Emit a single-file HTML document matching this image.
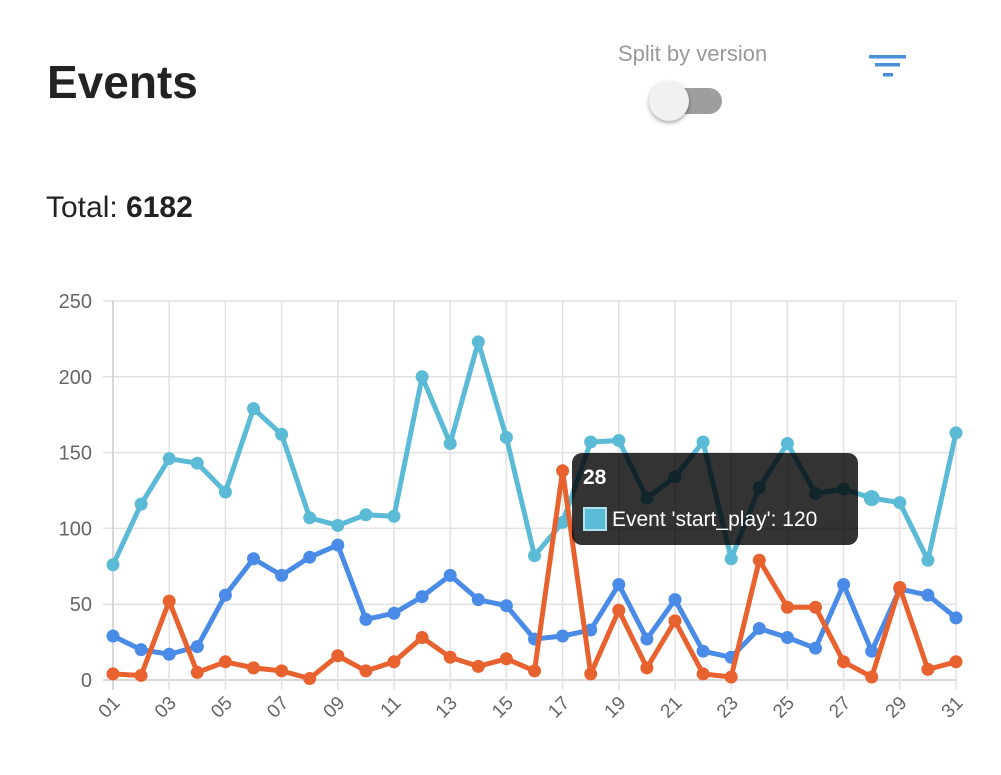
<!DOCTYPE html>
<html><head><meta charset="utf-8"><style>
body{margin:0;width:1001px;height:775px;background:#fff;font-family:"Liberation Sans",sans-serif;overflow:hidden;position:relative}
.abs{position:absolute}
</style></head><body>
<div class="abs" style="left:47px;top:55px;font-size:46px;font-weight:bold;color:#222">Events</div>
<div class="abs" style="left:618px;top:41px;font-size:22px;color:#999">Split by version</div>
<div class="abs" style="left:650px;top:88px;width:72px;height:26px;border-radius:13px;background:#9e9e9e"></div>
<div class="abs" style="left:649px;top:81px;width:40px;height:40px;border-radius:50%;background:#f1f1f1;box-shadow:0 2px 4px rgba(0,0,0,0.35)"></div>
<svg class="abs" style="left:866px;top:52px" width="44" height="30"><rect x="3" y="3" width="37" height="3.5" fill="#4a90d9"/><rect x="9" y="11" width="25" height="3.5" fill="#4a90d9"/><rect x="17" y="21" width="10" height="3.5" fill="#4a90d9"/></svg>
<div class="abs" style="left:46px;top:191px;font-size:30px;color:#222">Total: <b>6182</b></div>
<svg id="chart" class="abs" style="left:0;top:0" width="1001" height="775"></svg>
<script>
const days=['01','02','03','04','05','06','07','08','09','10','11','12','13','14','15','16','17','18','19','20','21','22','23','24','25','26','27','28','29','30','31'];
const startPlay=[76,116,146,143,124,179,162,107,102,109,108,200,156,223,160,82,104,157,158,120,134,157,80,127,156,123,126,120,117,79,163];
const blueSeries=[29,20,17,22,56,80,69,81,89,40,44,55,69,53,49,27,29,33,63,27,53,19,15,34,28,21,63,19,60,56,41];
const orangeSeries=[4,3,52,5,12,8,6,1,16,6,12,28,15,9,14,6,138,4,46,8,39,4,2,79,48,48,12,2,61,7,12];
const yTicks=[0,50,100,150,200,250];
const svg=document.getElementById('chart');const NS='http://www.w3.org/2000/svg';
const X0=113,X1=956,Y0=680,Y1=301,YMAX=250;
const xs=i=>X0+(X1-X0)*i/(days.length-1);
const ys=v=>Y0-(Y0-Y1)*v/YMAX;
function mk(t,a,p){const e=document.createElementNS(NS,t);for(const k in a)e.setAttribute(k,a[k]);(p||svg).appendChild(e);return e;}
yTicks.forEach(v=>{const l=mk('line',{x1:X0-10,x2:X1,y1:ys(v),y2:ys(v),stroke:v===0?'#ccc':'#e2e2e2','stroke-width':1.5});


const t=mk('text',{x:92,y:ys(v)+7,'text-anchor':'end','font-size':20,fill:'#666','font-family':'Liberation Sans, sans-serif'});t.textContent=v;

});
days.forEach((d,i)=>{if(i%2!==0)return;
const l=mk('line',{x1:xs(i),x2:xs(i),y1:Y1,y2:Y0+10,stroke:i===0?'#ccc':'#e2e2e2','stroke-width':1.5});


const t=mk('text',{x:xs(i)+8,y:Y0+24,'text-anchor':'end','font-size':19,fill:'#666','font-family':'Liberation Sans, sans-serif',transform:`rotate(-45 ${xs(i)+8} ${Y0+24})`});t.textContent=d;

});
function series(vals,color,name){const g=mk('g',{});


mk('polyline',{points:vals.map((v,i)=>xs(i)+','+ys(v)).join(' '),fill:'none',stroke:color,'stroke-width':5,'stroke-linejoin':'round'},g);
vals.forEach((v,i)=>{const c=mk('circle',{cx:xs(i),cy:ys(v),r:6.5,fill:color},g);

});}
series(startPlay,'#5bbad5','start-play-series');
series(blueSeries,'#4a8be8','blue-series');
series(orangeSeries,'#e8622f','orange-series');
const hp=mk('circle',{cx:xs(27),cy:ys(startPlay[27]),r:8,fill:'#5bbad5'});


const tg=mk('g',{});


mk('rect',{x:572,y:453,width:286,height:92,rx:10,fill:'rgba(0,0,0,0.8)'},tg);
const t1=mk('text',{x:583,y:484,'font-size':21,'font-weight':'bold',fill:'#fff','font-family':'Liberation Sans, sans-serif'},tg);t1.textContent=days[27];
mk('rect',{x:584,y:508,width:22,height:22,fill:'#5bbad5',stroke:'#aee0ee','stroke-width':2},tg);
const t2=mk('text',{x:612,y:526,'font-size':21,fill:'#fff','font-family':'Liberation Sans, sans-serif'},tg);t2.textContent="Event 'start_play': "+startPlay[27];
</script>
</body></html>
